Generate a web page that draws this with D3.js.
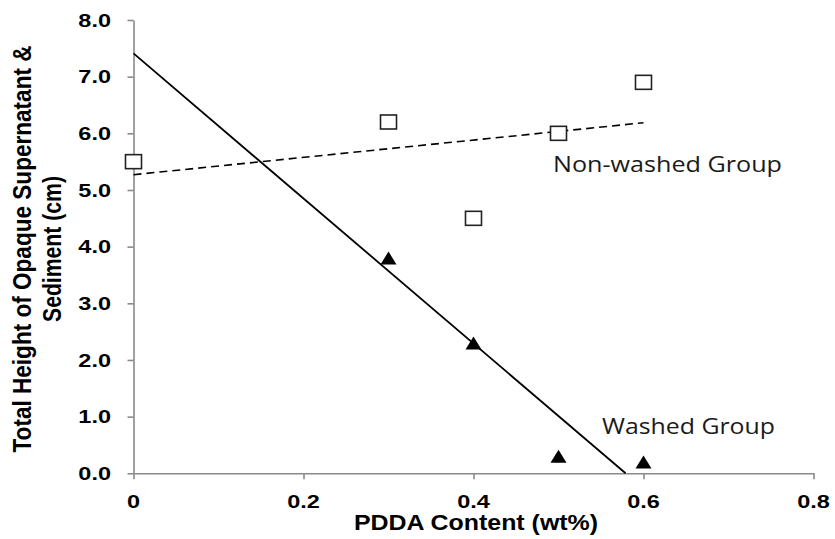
<!DOCTYPE html>
<html>
<head>
<meta charset="utf-8">
<script src="https://cdn.jsdelivr.net/npm/d3@7"></script>
<style>
  html, body { margin: 0; padding: 0; background: #fff; }
  svg { display: block; }
</style>
</head>
<body>
<svg id="chart" width="835" height="539"></svg>
<script>
// Measured heights of opaque supernatant + sediment (cm) by PDDA content (wt%)
const pddaNonWashed = [0, 0.3, 0.4, 0.5, 0.6];
const heightNonWashed = [5.5, 6.2, 4.5, 6.0, 6.9];
const pddaWashed = [0.3, 0.4, 0.5, 0.6];
const heightWashed = [3.8, 2.3, 0.3, 0.2];

const xTickValues = [0, 0.2, 0.4, 0.6, 0.8];
const xTickLabels = ["0", "0.2", "0.4", "0.6", "0.8"];
const yTickValues = [0, 1, 2, 3, 4, 5, 6, 7, 8];
const yTickLabels = ["0.0", "1.0", "2.0", "3.0", "4.0", "5.0", "6.0", "7.0", "8.0"];

const xTitle = "PDDA Content (wt%)";
const yTitleLines = ["Total Height of Opaque Supernatant &", "Sediment (cm)"];
const seriesLabels = ["Non-washed Group", "Washed Group"];

const svg = d3.select("#chart");
const AXIS = "#8a8a8a";
const BOLD = "'Liberation Sans', Arial, Helvetica, sans-serif";
const LABEL_FONT = "'Open Sans', 'Noto Sans', sans-serif";

const x = d3.scaleLinear().domain([0, 0.8]).range([133.5, 813.5]);
const y = d3.scaleLinear().domain([0, 8]).range([473.3, 20]);

// Least-squares linear trend
function fit(xs, ys) {
  const n = xs.length;
  const mx = d3.mean(xs), my = d3.mean(ys);
  let sxy = 0, sxx = 0;
  for (let i = 0; i < n; i++) {
    sxy += (xs[i] - mx) * (ys[i] - my);
    sxx += (xs[i] - mx) ** 2;
  }
  const slope = sxy / sxx;
  return { slope, intercept: my - slope * mx };
}

// Axes
const yAxis = svg.append("g")
  .attr("transform", `translate(${x(0)},0)`)
  .call(d3.axisLeft(y).tickValues(yTickValues).tickSize(6).tickSizeOuter(0).tickFormat(""));
const xAxis = svg.append("g")
  .attr("transform", `translate(0,${y(0)})`)
  .call(d3.axisBottom(x).tickValues(xTickValues).tickSize(6).tickSizeOuter(0).tickFormat(""));
[xAxis, yAxis].forEach(g => {
  g.select(".domain").attr("stroke", AXIS).attr("stroke-width", 1.6);
  g.selectAll(".tick line").attr("stroke", AXIS).attr("stroke-width", 1.6);
});

// Tick labels
svg.append("g").selectAll("text")
  .data(yTickValues)
  .join("text")
  .attr("transform", d => `translate(111,${y(d)}) scale(1.27,1)`)
  .attr("dy", "0.36em")
  .attr("text-anchor", "end")
  .attr("font-family", BOLD)
  .attr("font-weight", "bold")
  .attr("font-size", 18.5)
  .attr("fill", "#000")
  .text((d, i) => yTickLabels[i]);

svg.append("g").selectAll("text")
  .data(xTickValues)
  .join("text")
  .attr("transform", d => `translate(${x(d)},507.5) scale(1.27,1)`)
  .attr("text-anchor", "middle")
  .attr("font-family", BOLD)
  .attr("font-weight", "bold")
  .attr("font-size", 18.5)
  .attr("fill", "#000")
  .text((d, i) => xTickLabels[i]);

// Axis titles
svg.append("text")
  .attr("x", 476)
  .attr("y", 530)
  .attr("text-anchor", "middle")
  .attr("font-family", BOLD)
  .attr("font-weight", "bold")
  .attr("font-size", 22.5)
  .attr("textLength", 244)
  .attr("lengthAdjust", "spacingAndGlyphs")
  .attr("fill", "#000")
  .text(xTitle);

const yTitleLengths = [407, 146];
const yTitleBaselines = [31, 61];
yTitleLines.forEach((line, i) => {
  svg.append("text")
    .attr("transform", `translate(${yTitleBaselines[i]},249) rotate(-90) scale(1,1.12)`)
    .attr("text-anchor", "middle")
    .attr("font-family", BOLD)
    .attr("font-weight", "bold")
    .attr("font-size", 22.5)
    .attr("textLength", yTitleLengths[i])
    .attr("lengthAdjust", "spacingAndGlyphs")
    .attr("fill", "#000")
    .text(line);
});

// Trend lines
const line = d3.line().x(d => x(d[0])).y(d => y(d[1]));

const nwFit = fit(pddaNonWashed, heightNonWashed);
const nwEnds = [0, d3.max(pddaNonWashed)];
svg.append("path")
  .attr("d", line(nwEnds.map(v => [v, nwFit.intercept + nwFit.slope * v])))
  .attr("fill", "none")
  .attr("stroke", "#000")
  .attr("stroke-width", 1.6)
  .attr("stroke-dasharray", "8,5");

const wFit = fit(pddaWashed, heightWashed);
const wZero = -wFit.intercept / wFit.slope; // where the trend reaches the axis floor
svg.append("path")
  .attr("d", line([[0, wFit.intercept], [wZero, 0]]))
  .attr("fill", "none")
  .attr("stroke", "#000")
  .attr("stroke-width", 1.8);

// Markers
svg.append("g").selectAll("rect")
  .data(pddaNonWashed.map((v, i) => [v, heightNonWashed[i]]))
  .join("rect")
  .attr("x", d => x(d[0]) - 8)
  .attr("y", d => y(d[1]) - 7)
  .attr("width", 16)
  .attr("height", 14)
  .attr("fill", "#fff")
  .attr("stroke", "#222")
  .attr("stroke-width", 1.6);

const tri = (cx, cy) => `M${cx},${cy - 6.5}L${cx + 8},${cy + 6.5}L${cx - 8},${cy + 6.5}Z`;
svg.append("g").selectAll("path")
  .data(pddaWashed.map((v, i) => [v, heightWashed[i]]))
  .join("path")
  .attr("d", d => tri(x(d[0]), y(d[1])))
  .attr("fill", "#000");

// Series annotations
svg.append("text")
  .attr("x", 553).attr("y", 172)
  .attr("font-family", LABEL_FONT)
  .attr("font-size", 21)
  .attr("textLength", 229)
  .attr("lengthAdjust", "spacingAndGlyphs")
  .attr("fill", "#1a1a1a")
  .text(seriesLabels[0]);

svg.append("text")
  .attr("x", 602).attr("y", 433.5)
  .attr("font-family", LABEL_FONT)
  .attr("font-size", 21)
  .attr("textLength", 173)
  .attr("lengthAdjust", "spacingAndGlyphs")
  .attr("fill", "#1a1a1a")
  .text(seriesLabels[1]);
</script>
</body>
</html>
